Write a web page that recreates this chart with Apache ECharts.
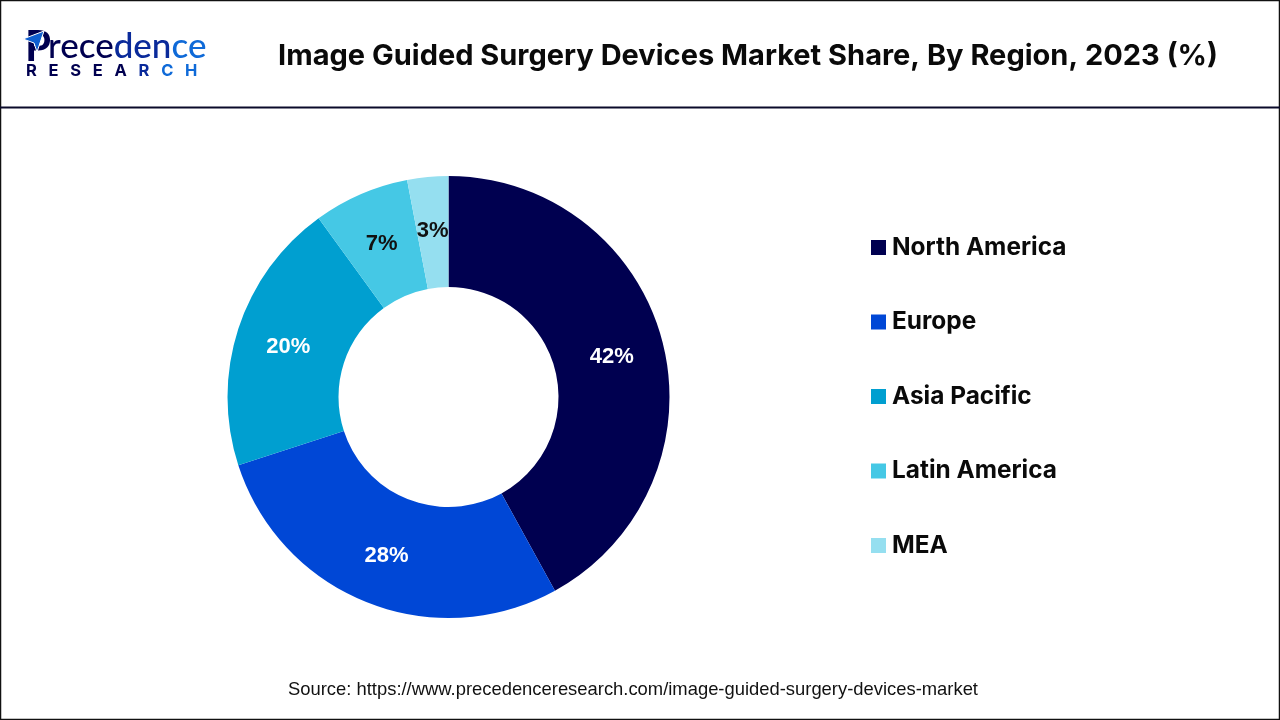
<!DOCTYPE html>
<html>
<head>
<meta charset="utf-8">
<style>
  html, body { margin: 0; padding: 0; background: #fff; }
  #chart { width: 1280px; height: 720px; }
</style>
<script src="https://cdn.jsdelivr.net/npm/echarts@6/dist/echarts.min.js"></script>
</head>
<body>
<div id="chart"></div>
<script>
const regions = ['North America', 'Europe', 'Asia Pacific', 'Latin America', 'MEA']
const shares = [42, 28, 20, 7, 3]
const sliceColors = ['#000050', '#0047d6', '#009fd0', '#45c8e5', '#95dff0']
const labelColors = ['#fff', '#fff', '#fff', '#111', '#111']

const myChart = echarts.init(document.getElementById('chart'))

// 给logo文字用的颜色，从深蓝过渡到亮蓝
const logoRich = (font) => ({
  a: { font, fill: '#000050', color: '#000050' },
  b: { font, fill: '#0a2a9a', color: '#0a2a9a' },
  c: { font, fill: '#0f6ad8', color: '#0f6ad8' }
})

myChart.setOption({
  animation: false,
  title: {
    text: 'Image Guided Surgery Devices Market Share, By Region, 2023 (%)',
    left: 743,
    top: 37,
    textAlign: 'center',
    textStyle: { fontFamily: 'Inter', fontSize: 29, fontWeight: 'bold', color: '#0a0a0a' }
  },
  legend: {
    orient: 'vertical',
    left: 871,
    top: 232,
    padding: 0,
    itemWidth: 15,
    itemHeight: 15,
    itemGap: 43.5,
    icon: 'rect',
    data: regions,
    textStyle: {
      fontFamily: 'Inter',
      fontSize: 24.4,
      fontWeight: 'bold',
      color: '#0a0a0a',
      lineHeight: 30,
      padding: [1, 0, 0, 1]
    }
  },
  series: [
    {
      type: 'pie',
      center: [448.5, 397],
      radius: [110, 221],
      startAngle: 90,
      clockwise: true,
      data: regions.map((name, i) => ({
        name,
        value: shares[i],
        itemStyle: { color: sliceColors[i] },
        label: { color: labelColors[i] }
      })),
      label: {
        position: 'inside',
        formatter: '{c}%',
        fontFamily: 'Liberation Sans',
        fontSize: 22,
        fontWeight: 'bold',
        offset: [0, 2]
      },
      labelLine: { show: false },
      emphasis: { disabled: true }
    }
  ],
  graphic: [
    // 外框和标题下面的分隔线
    { type: 'rect', shape: { x: 0.5, y: 0.5, width: 1279, height: 719 }, style: { fill: 'none', stroke: '#111', lineWidth: 1.5 } },
    { type: 'line', shape: { x1: 0, y1: 107.5, x2: 1280, y2: 107.5 }, style: { stroke: '#0a0a2a', lineWidth: 2 } },
    // logo
    { type: 'text', x: 25, y: 26, style: { text: 'P', font: 'bold 42px Lato', fill: '#000050' } },
    { type: 'polygon', shape: { points: [[23, 39], [44, 31], [37, 52], [34, 43]] }, style: { fill: '#0f5fd0', stroke: '#fff', lineWidth: 1 } },
    {
      type: 'text', x: 48, y: 29,
      style: { text: '{a|rece}{b|den}{c|ce}', rich: logoRich('500 35px Lato') }
    },
    {
      type: 'text', x: 26, y: 63,
      style: { text: '{a|R   E   S   E   A}{b|   R   }{c|C   H}', rich: logoRich('bold 16.5px Inter') }
    },
    { type: 'text', x: 633, y: 681, style: { text: 'Source: https://www.precedenceresearch.com/image-guided-surgery-devices-market', font: '18.4px "Liberation Sans"', fill: '#111', align: 'center' } }
  ]
})
</script>
</body>
</html>
